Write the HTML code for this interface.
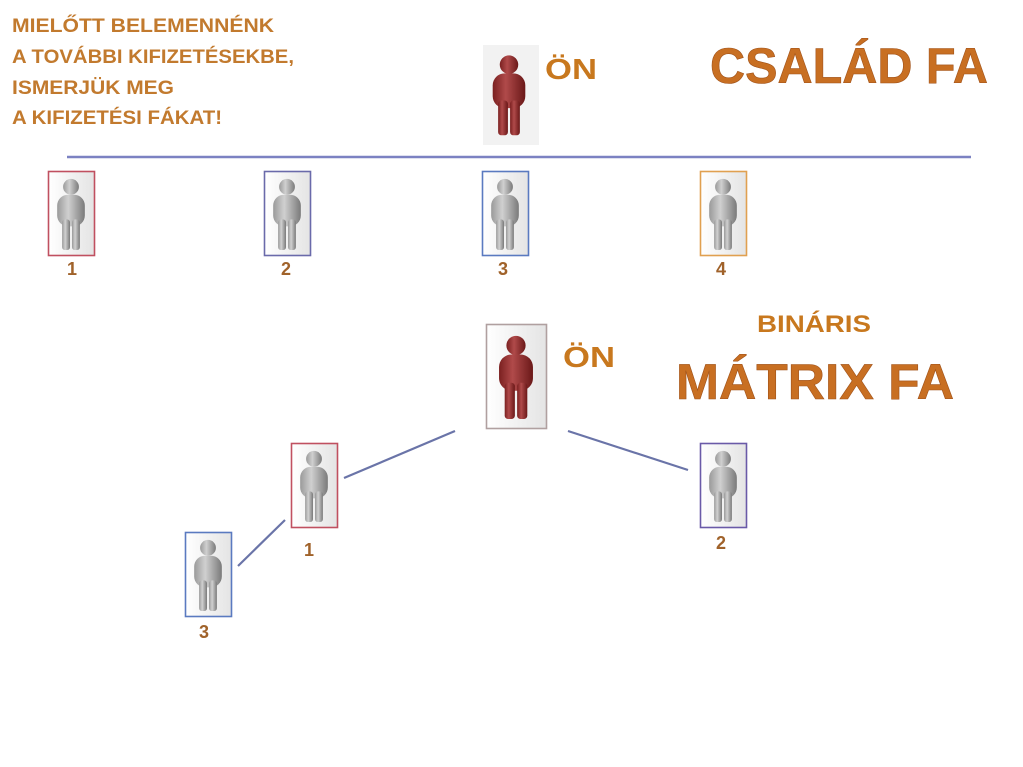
<!DOCTYPE html>
<html><head><meta charset="utf-8"><style>
html,body{margin:0;padding:0;background:#fff;}
svg{display:block;}
text{font-family:"Liberation Sans",sans-serif;font-weight:bold;}
</style></head><body>
<svg width="1023" height="767" viewBox="0 0 1023 767" xmlns="http://www.w3.org/2000/svg">
<defs>
<linearGradient id="gg" x1="0" x2="1"><stop offset="0" stop-color="#9a9a9a"/><stop offset="0.4" stop-color="#d0d0d0"/><stop offset="1" stop-color="#7a7a7a"/></linearGradient>
<linearGradient id="rg" x1="0" x2="1"><stop offset="0" stop-color="#7a2020"/><stop offset="0.4" stop-color="#b04a4a"/><stop offset="1" stop-color="#6a1818"/></linearGradient>
<linearGradient id="bg" x1="0" x2="1"><stop offset="0" stop-color="#ffffff"/><stop offset="1" stop-color="#e4e4e4"/></linearGradient>
<symbol id="pg" viewBox="0 0 46 84"><circle cx="23" cy="15" r="8" fill="url(#gg)"/><rect x="9" y="23" width="28" height="32" rx="11" fill="url(#gg)"/><rect x="14" y="48" width="8" height="31" rx="3" fill="url(#gg)"/><rect x="24" y="48" width="8" height="31" rx="3" fill="url(#gg)"/></symbol>
<symbol id="pr" viewBox="0 0 46 84"><circle cx="23" cy="15" r="8.5" fill="url(#rg)"/><rect x="8" y="23" width="30" height="32" rx="11" fill="url(#rg)"/><rect x="13" y="48" width="9" height="32" rx="3" fill="url(#rg)"/><rect x="24" y="48" width="9" height="32" rx="3" fill="url(#rg)"/></symbol>
</defs>
<g fill="#c27a2e" font-size="19">
<text x="12" y="32" textLength="262" lengthAdjust="spacingAndGlyphs">MIELŐTT BELEMENNÉNK</text>
<text x="12" y="63" textLength="282" lengthAdjust="spacingAndGlyphs">A TOVÁBBI KIFIZETÉSEKBE,</text>
<text x="12" y="94" textLength="162" lengthAdjust="spacingAndGlyphs">ISMERJÜK MEG</text>
<text x="12" y="124" textLength="210" lengthAdjust="spacingAndGlyphs">A KIFIZETÉSI FÁKAT!</text>
</g>
<rect x="483" y="45" width="56" height="100" fill="#f2f2f2"/>
<use href="#pr" x="484" y="44" width="50" height="100"/>
<text x="545" y="79" font-size="29" fill="#c8781e" textLength="52" lengthAdjust="spacingAndGlyphs">ÖN</text>
<text x="710" y="83" font-size="50" fill="#c86f22" stroke="#a0521a" stroke-width="0.6" textLength="278" lengthAdjust="spacingAndGlyphs">CSALÁD FA</text>
<line x1="67" y1="157" x2="971" y2="157" stroke="#7c82c2" stroke-width="2.5"/>
<g stroke-width="1.6" fill="url(#bg)">
<rect x="48.5" y="171.5" width="46" height="84" stroke="#c05060"/>
<rect x="264.5" y="171.5" width="46" height="84" stroke="#6a6aaa"/>
<rect x="482.5" y="171.5" width="46" height="84" stroke="#5a7ac0"/>
<rect x="700.5" y="171.5" width="46" height="84" stroke="#e0a050"/>
<rect x="291.5" y="443.5" width="46" height="84" stroke="#c05060"/>
<rect x="700.5" y="443.5" width="46" height="84" stroke="#6a5aa8"/>
<rect x="185.5" y="532.5" width="46" height="84" stroke="#5a7ac0"/>
<rect x="486.5" y="324.5" width="60" height="104" stroke="#b0a0a0"/>
</g>
<use href="#pg" x="48" y="172" width="46" height="83"/>
<use href="#pg" x="264" y="172" width="46" height="83"/>
<use href="#pg" x="482" y="172" width="46" height="83"/>
<use href="#pg" x="700" y="172" width="46" height="83"/>
<use href="#pg" x="291" y="444" width="46" height="83"/>
<use href="#pg" x="700" y="444" width="46" height="83"/>
<use href="#pg" x="185" y="533" width="46" height="83"/>
<use href="#pr" x="490" y="326" width="52" height="100"/>
<g fill="#a0622a" font-size="18" text-anchor="middle">
<text x="72" y="275">1</text><text x="286" y="275">2</text><text x="503" y="275">3</text><text x="721" y="275">4</text>
<text x="309" y="556">1</text><text x="721" y="549">2</text><text x="204" y="638">3</text>
</g>
<text x="563" y="367" font-size="29" fill="#c8781e" textLength="52" lengthAdjust="spacingAndGlyphs">ÖN</text>
<text x="757" y="332" font-size="24" fill="#c8781e" textLength="114" lengthAdjust="spacingAndGlyphs">BINÁRIS</text>
<text x="676" y="399" font-size="50" fill="#c86f22" stroke="#a0521a" stroke-width="0.6" textLength="278" lengthAdjust="spacingAndGlyphs">MÁTRIX FA</text>
<g stroke="#6a74a8" stroke-width="2.2">
<line x1="455" y1="431" x2="344" y2="478"/>
<line x1="568" y1="431" x2="688" y2="470"/>
<line x1="285" y1="520" x2="238" y2="566"/>
</g>
</svg>
</body></html>
